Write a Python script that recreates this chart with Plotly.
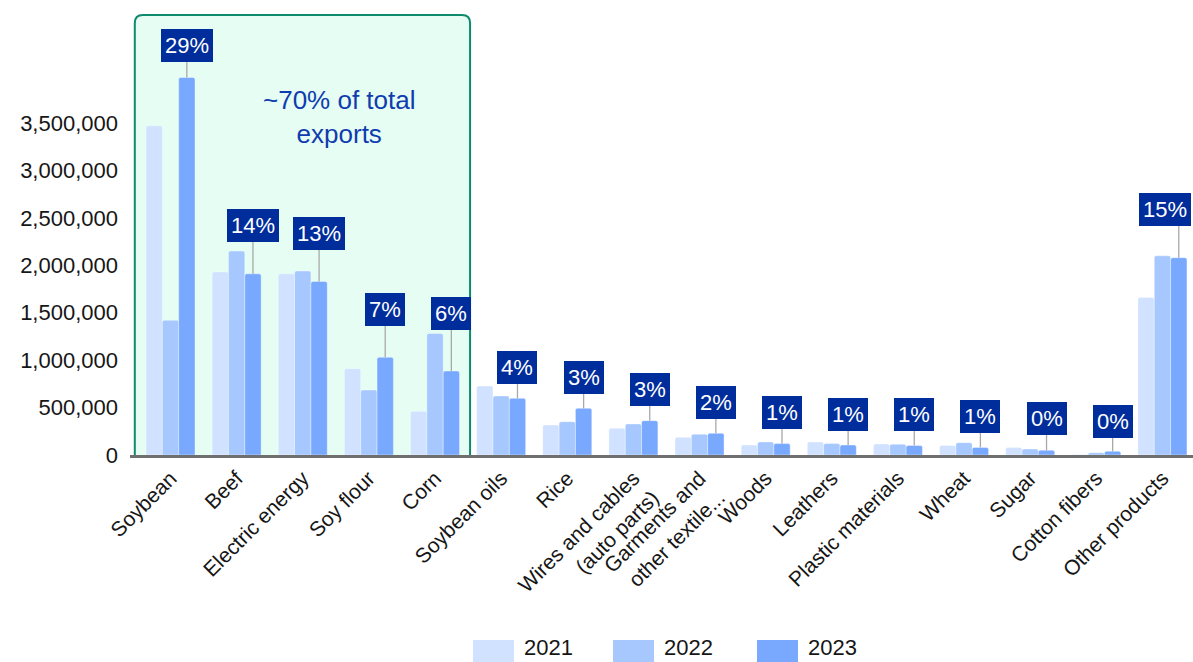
import plotly.graph_objects as go

# Export values by product (USD thousands) for three years
categories = [
    "Soybean", "Beef", "Electric energy", "Soy flour", "Corn", "Soybean oils",
    "Rice", "Wires and cables<br>(auto parts)", "Garments and<br>other textile...",
    "Woods", "Leathers", "Plastic materials", "Wheat", "Sugar", "Cotton fibers",
    "Other products",
]
years = ["2021", "2022", "2023"]
values_2021 = [3470000, 1930000, 1910000, 910000, 460000, 727000, 316000, 281000,
               186000, 105000, 137000, 116000, 100000, 80000, 5000, 1660000]
values_2022 = [1420000, 2150000, 1940000, 685000, 1280000, 622000, 351000, 327000,
               218000, 137000, 120000, 113000, 130000, 63000, 25000, 2100000]
values_2023 = [3980000, 1910000, 1830000, 1030000, 885000, 597000, 492000, 362000,
               228000, 120000, 105000, 100000, 80000, 50000, 39000, 2080000]
share_2023 = [29, 14, 13, 7, 6, 4, 3, 3, 2, 1, 1, 1, 1, 0, 0, 15]
y_ticks = [0, 500000, 1000000, 1500000, 2000000, 2500000, 3000000, 3500000]

# Vertical lift (px) of each share callout above its 2023 bar
callout_lift = [32, 48, 48, 48, 58, 31, 31, 31, 31, 31, 31, 31, 31, 32, 30, 48]

colors = ["#d0e2ff", "#a6c8ff", "#78a9ff"]
series = [values_2021, values_2022, values_2023]
FONT = "Liberation Sans, Arial, sans-serif"
TEXT = "#161616"

# Layout geometry
W, H = 1193, 662
ML, MT, MB = 130, 0, 207
plot_w = W - ML
plot_h = H - MT - MB
x_range = [-0.6124, 15.462]
y_range = [0, 4.797e6]
bar_gap = 0.259
bar_w = (1 - bar_gap) / 3

x_idx = list(range(len(categories)))

fig = go.Figure()
for name, vals, col in zip(years, series, colors):
    fig.add_trace(go.Bar(
        x=x_idx, y=vals, name=name,
        marker=dict(color=col, line=dict(width=0.6, color="rgba(255,255,255,0.6)"),
                    cornerradius=2),
        hoverinfo="x+y+name",
    ))

# Highlight box around the top five products (rounded top corners, open bottom)
px_per_x = plot_w / (x_range[1] - x_range[0])
px_per_y = plot_h / (y_range[1] - y_range[0])
bx0, bx1, by0, by1 = -0.54, 4.53, 0, 4.64e6
rx, ry = 8 / px_per_x, 8 / px_per_y
outline = (
    f"M {bx0},{by0} L {bx0},{by1 - ry} Q {bx0},{by1} {bx0 + rx},{by1} "
    f"L {bx1 - rx},{by1} Q {bx1},{by1} {bx1},{by1 - ry} L {bx1},{by0}"
)
fig.add_shape(type="path", path=outline + " Z", xref="x", yref="y", layer="below",
              fillcolor="#e6fdf4", line=dict(width=0))
fig.add_shape(type="path", path=outline, xref="x", yref="y", layer="below",
              fillcolor="rgba(0,0,0,0)", line=dict(color="#0e8a6c", width=2))

fig.add_annotation(
    x=2.56, y=3.56e6, xref="x", yref="y",
    text="~70% of total<br>exports", showarrow=False,
    font=dict(family=FONT, size=26, color="#0f3cae"), align="center",
)

# Share callouts on the 2023 bars: a grey stem plus a navy label
right_px = ML + plot_w
for i, (v, s, lift) in enumerate(zip(values_2023, share_2023, callout_lift)):
    xc = i + bar_w
    y_label = v + lift / px_per_y
    fig.add_shape(type="line", xref="x", yref="y", x0=xc, x1=xc, y0=v, y1=y_label,
                  line=dict(color="#a8a8a8", width=1.3))
    # keep the label box inside the figure's right edge
    cx_px = ML + (xc - x_range[0]) * px_per_x
    shift = min(0, right_px - 2 - (cx_px + 26))
    fig.add_annotation(
        x=xc, y=y_label, xref="x", yref="y", xshift=shift,
        text=f"{s}%", showarrow=False, yanchor="middle",
        bgcolor="#002d9c", bordercolor="#002d9c", borderpad=3,
        font=dict(family=FONT, size=22, color="white"),
    )

# Legend drawn as swatches with year labels
legend_x = [473, 613, 757]
for name, col, lx in zip(years, colors, legend_x):
    fig.add_shape(type="rect", xref="paper", yref="paper",
                  x0=(lx - ML) / plot_w, x1=(lx + 41 - ML) / plot_w,
                  y0=(MT + plot_h - 665) / plot_h, y1=(MT + plot_h - 640) / plot_h,
                  fillcolor=col, line=dict(width=0))
    fig.add_annotation(xref="paper", yref="paper",
                       x=(lx + 49 - ML) / plot_w, y=(MT + plot_h - 647) / plot_h,
                       text=name, showarrow=False, xanchor="left", yanchor="middle",
                       font=dict(family=FONT, size=22, color=TEXT))

fig.update_layout(
    width=W, height=H,
    margin=dict(l=ML, r=0, t=MT, b=MB, autoexpand=False),
    paper_bgcolor="white", plot_bgcolor="white",
    barmode="group", bargap=bar_gap, bargroupgap=0,
    showlegend=False,
    font=dict(family=FONT, size=22, color=TEXT),
)
fig.update_xaxes(
    range=x_range, tickmode="array", tickvals=x_idx, ticktext=categories,
    tickangle=-45, showgrid=False, zeroline=False,
    showline=True, linecolor="#6f6f6f", linewidth=2.5,
    ticks="", tickfont=dict(family=FONT, size=21, color=TEXT),
    automargin=False,
)
fig.update_yaxes(
    range=y_range, tickmode="array", tickvals=y_ticks, tickformat=",",
    showgrid=False, zeroline=False, showline=False, ticks="",
    tickfont=dict(family=FONT, size=22, color=TEXT), ticklabelstandoff=11,
    automargin=False,
)

fig.write_html("out.html")
